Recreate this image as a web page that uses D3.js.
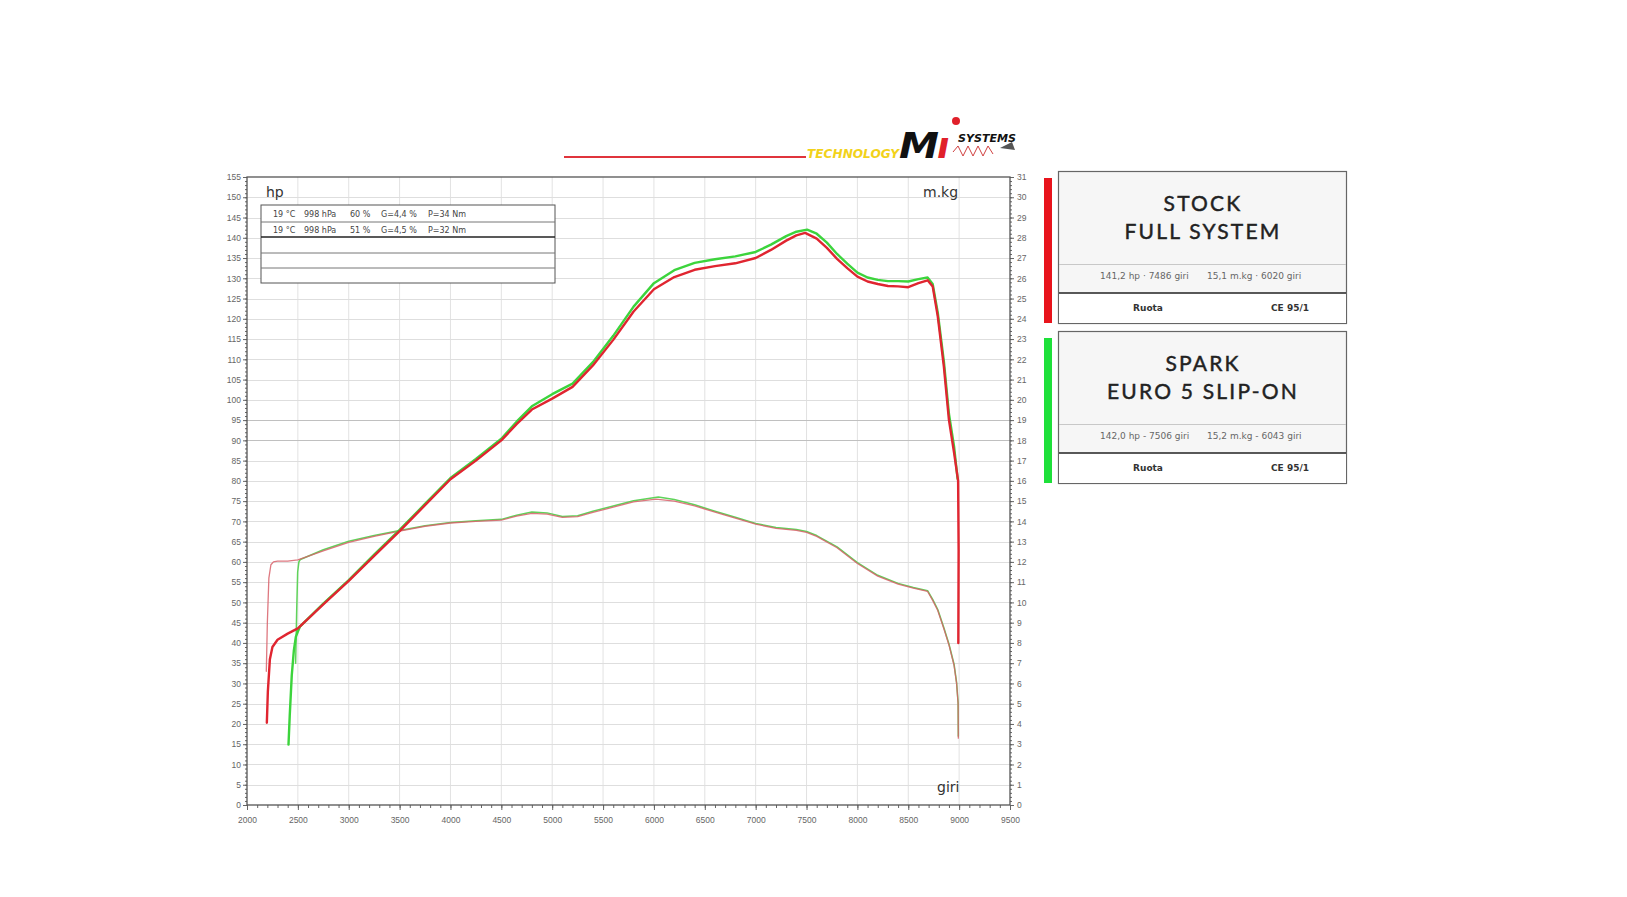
<!DOCTYPE html>
<html>
<head>
<meta charset="utf-8">
<script src="https://cdn.jsdelivr.net/npm/d3@7"></script>
<style>
  html, body { margin: 0; padding: 0; background: #fff; }
  svg { display: block; }
</style>
</head>
<body>
<div id="chart"></div>
<script>
// ---- data ----
var stockPowerRpm = [2195, 2205, 2225, 2250, 2300, 2400, 2500, 2750, 3000, 3250, 3500, 3750, 4000, 4250, 4500, 4650, 4800, 5000, 5200, 5400, 5600, 5800, 6000, 6200, 6400, 6600, 6800, 7000, 7150, 7300, 7400, 7486, 7600, 7700, 7800, 7900, 8000, 8100, 8200, 8300, 8400, 8500, 8600, 8690, 8740, 8790, 8850, 8900, 8950, 8990, 8995, 8992];
var stockPowerHp  = [20.3, 28, 36, 39, 40.8, 42.3, 43.6, 49.5, 55.3, 61.5, 67.6, 74, 80.4, 85, 90, 94, 97.6, 100.3, 103.2, 108.5, 114.8, 121.8, 127.3, 130.3, 132.1, 133, 133.7, 135, 137, 139.3, 140.6, 141.2, 139.8, 137.5, 134.8, 132.5, 130.4, 129.2, 128.6, 128.1, 128, 127.8, 128.8, 129.5, 128, 120.6, 108.2, 95, 87, 80, 63, 40];

var sparkPowerRpm = [2408, 2420, 2440, 2460, 2480, 2500, 2520, 2750, 3000, 3250, 3500, 3750, 4000, 4250, 4500, 4650, 4800, 5000, 5200, 5400, 5600, 5800, 6000, 6200, 6400, 6600, 6800, 7000, 7150, 7300, 7400, 7506, 7600, 7700, 7800, 7900, 8000, 8100, 8200, 8300, 8400, 8500, 8600, 8690, 8740, 8790, 8850, 8900, 8950, 8985];
var sparkPowerHp  = [14.9, 22, 32, 38, 41.5, 42.8, 44, 49.7, 55.5, 61.8, 67.9, 74.3, 80.7, 85.4, 90.4, 94.6, 98.4, 101.4, 104, 109.3, 115.8, 123, 128.8, 132, 133.8, 134.7, 135.4, 136.5, 138.3, 140.4, 141.5, 142.0, 141, 138.8, 136, 133.6, 131.4, 130.2, 129.6, 129.3, 129.3, 129.2, 129.8, 130.2, 128.6, 121.5, 109.5, 96.5, 88.5, 80.5];

var stockTorqueRpm = [2190, 2200, 2215, 2235, 2260, 2300, 2400, 2500, 2750, 3000, 3250, 3500, 3750, 4000, 4250, 4500, 4650, 4800, 4950, 5100, 5250, 5400, 5600, 5800, 6020, 6200, 6400, 6600, 6800, 7000, 7200, 7400, 7500, 7600, 7800, 8000, 8200, 8400, 8550, 8690, 8740, 8790, 8850, 8900, 8950, 8975, 8990, 8992];
var stockTorqueKg  = [6.6, 9.0, 11.2, 11.86, 12.0, 12.04, 12.04, 12.1, 12.54, 12.96, 13.26, 13.52, 13.76, 13.92, 14.0, 14.06, 14.26, 14.4, 14.36, 14.2, 14.24, 14.44, 14.7, 14.96, 15.1, 15.0, 14.76, 14.46, 14.16, 13.86, 13.66, 13.56, 13.46, 13.26, 12.7, 11.92, 11.3, 10.9, 10.7, 10.54, 10.1, 9.6, 8.7, 7.9, 6.9, 6.0, 5.0, 3.3];

var sparkTorqueRpm = [2478, 2488, 2498, 2510, 2525, 2750, 3000, 3250, 3500, 3750, 4000, 4250, 4500, 4650, 4800, 4950, 5100, 5250, 5400, 5600, 5800, 6043, 6200, 6400, 6600, 6800, 7000, 7200, 7400, 7500, 7600, 7800, 8000, 8200, 8400, 8550, 8690, 8740, 8790, 8850, 8900, 8950, 8975, 8990, 8992];
var sparkTorqueKg  = [7.0, 9.5, 11.5, 12.0, 12.12, 12.6, 13.02, 13.3, 13.55, 13.78, 13.95, 14.03, 14.1, 14.3, 14.46, 14.42, 14.24, 14.28, 14.5, 14.76, 15.02, 15.2, 15.08, 14.82, 14.5, 14.2, 13.9, 13.7, 13.6, 13.5, 13.3, 12.74, 11.96, 11.34, 10.94, 10.74, 10.58, 10.15, 9.65, 8.75, 7.95, 6.95, 6.05, 5.05, 3.4];

var hpTicks = d3.range(0, 156, 5);
var kgTicks = d3.range(0, 32, 1);
var rpmTicks = d3.range(2000, 9501, 500);

var testConditions = [
	['19 °C', '998 hPa', '60 %', 'G=4,4 %', 'P=34 Nm'],
	['19 °C', '998 hPa', '51 %', 'G=4,5 %', 'P=32 Nm']
];

var legendTitles = [['STOCK', 'FULL SYSTEM'], ['SPARK', 'EURO 5 SLIP-ON']];
var legendPower = ['141,2 hp · 7486 giri', '142,0 hp - 7506 giri'];
var legendTorque = ['15,1 m.kg · 6020 giri', '15,2 m.kg - 6043 giri'];
var legendColors = ['#e8141c', '#1ee03a'];

// ---- layout ----
var width = 1627, height = 897;
var plot = { left: 247, right: 1010, top: 177, bottom: 805 };

var svg = d3.select('#chart').append('svg')
	.attr('width', width)
	.attr('height', height)
	.style('font-family', '"DejaVu Sans", Arial, sans-serif');

svg.append('rect').attr('width', width).attr('height', height).attr('fill', '#fff');

var x = d3.scaleLinear().domain([2000, 9500]).range([plot.left, plot.right]);
var yHp = d3.scaleLinear().domain([0, 155]).range([plot.bottom, plot.top]);
var yKg = d3.scaleLinear().domain([0, 31]).range([plot.bottom, plot.top]);

// grid
var grid = svg.append('g').attr('class', 'grid');
grid.selectAll('line.v')
	.data(rpmTicks.slice(1, -1))
	.enter().append('line')
	.attr('x1', function(d) { return x(d); })
	.attr('x2', function(d) { return x(d); })
	.attr('y1', plot.top).attr('y2', plot.bottom)
	.attr('stroke', '#e2e2e2').attr('stroke-width', 1);
grid.selectAll('line.h')
	.data(hpTicks.slice(1, -1))
	.enter().append('line')
	.attr('x1', plot.left).attr('x2', plot.right)
	.attr('y1', function(d) { return Math.round(yHp(d)) + 0.5; })
	.attr('y2', function(d) { return Math.round(yHp(d)) + 0.5; })
	.attr('stroke', function(d) { return (d === 90 || d === 95) ? '#c0c0c0' : '#dedede'; })
	.attr('stroke-width', 1);

// axes
function styleAxis(g) {
	g.select('.domain').remove();
	g.selectAll('line').attr('stroke', '#666');
	g.selectAll('text').attr('fill', '#666').style('font-size', '8.5px');
}

svg.append('g')
	.attr('transform', 'translate(' + plot.left + ',0)')
	.call(d3.axisLeft(yHp).tickValues(d3.range(0, 156, 1)).tickSize(2).tickFormat(''))
	.call(styleAxis);
svg.append('g')
	.attr('transform', 'translate(' + plot.left + ',0)')
	.call(d3.axisLeft(yHp).tickValues(hpTicks).tickSize(4).tickPadding(2))
	.call(styleAxis);

svg.append('g')
	.attr('transform', 'translate(' + plot.right + ',0)')
	.call(d3.axisRight(yKg).tickValues(d3.range(0, 31.01, 0.2)).tickSize(2).tickFormat(''))
	.call(styleAxis);
svg.append('g')
	.attr('transform', 'translate(' + plot.right + ',0)')
	.call(d3.axisRight(yKg).tickValues(kgTicks).tickSize(4).tickPadding(3))
	.call(styleAxis);

svg.append('g')
	.attr('transform', 'translate(0,' + plot.bottom + ')')
	.call(d3.axisBottom(x).tickValues(d3.range(2000, 9501, 100)).tickSize(3).tickFormat(''))
	.call(styleAxis);
svg.append('g')
	.attr('transform', 'translate(0,' + plot.bottom + ')')
	.call(d3.axisBottom(x).tickValues(rpmTicks).tickSize(5).tickPadding(7).tickFormat(d3.format('d')))
	.call(styleAxis);

// frame
svg.append('rect')
	.attr('x', plot.left).attr('y', plot.top)
	.attr('width', plot.right - plot.left).attr('height', plot.bottom - plot.top)
	.attr('fill', 'none').attr('stroke', '#555').attr('stroke-width', 1.3);

// unit labels
svg.append('text').attr('x', 266).attr('y', 197).text('hp')
	.attr('fill', '#333').style('font-size', '14px');
svg.append('text').attr('x', 923).attr('y', 197).text('m.kg')
	.attr('fill', '#333').style('font-size', '14px');
svg.append('text').attr('x', 937).attr('y', 792).text('giri')
	.attr('fill', '#333').style('font-size', '14px');

// test conditions table
var table = svg.append('g');
var tableRows = [205, 222, 237, 253, 268, 283];
table.append('rect').attr('x', 261).attr('y', 205).attr('width', 294).attr('height', 78)
	.attr('fill', '#fff').attr('stroke', '#555').attr('stroke-width', 1);
table.selectAll('line.row')
	.data(tableRows.slice(1, -1))
	.enter().append('line')
	.attr('x1', 261).attr('x2', 555)
	.attr('y1', function(d) { return d; }).attr('y2', function(d) { return d; })
	.attr('stroke', function(d, i) { return i === 1 ? '#222' : '#777'; })
	.attr('stroke-width', function(d, i) { return i === 1 ? 1.4 : 1; });
var colX = [273, 304, 350, 381, 428];
testConditions.forEach(function(row, r) {
	table.selectAll('text.r' + r)
		.data(row)
		.enter().append('text')
		.attr('x', function(d, i) { return colX[i]; })
		.attr('y', 217 + r * 15.5)
		.attr('fill', '#444')
		.style('font-size', '8px')
		.text(function(d) { return d; });
});

// curves
function series(rpm, vals) {
	return rpm.map(function(r, i) { return [r, vals[i]]; });
}
var lineHp = d3.line().x(function(d) { return x(d[0]); }).y(function(d) { return yHp(d[1]); });
var lineKg = d3.line().x(function(d) { return x(d[0]); }).y(function(d) { return yKg(d[1]); });

var curves = svg.append('g').attr('fill', 'none').attr('stroke-linejoin', 'round').attr('stroke-linecap', 'round');
curves.append('path').attr('d', lineKg(series(sparkTorqueRpm, sparkTorqueKg)))
	.attr('stroke', '#5fd35a').attr('stroke-width', 1.5);
curves.append('path').attr('d', lineKg(series(stockTorqueRpm, stockTorqueKg)))
	.attr('stroke', '#d8606a').attr('stroke-width', 1.3).attr('stroke-opacity', 0.85);
curves.append('path').attr('d', lineHp(series(sparkPowerRpm, sparkPowerHp)))
	.attr('stroke', '#3cd43c').attr('stroke-width', 2.4);
curves.append('path').attr('d', lineHp(series(stockPowerRpm, stockPowerHp)))
	.attr('stroke', '#e02530').attr('stroke-width', 2.4);

// logo
var logo = svg.append('g');
logo.append('line').attr('x1', 564).attr('x2', 806).attr('y1', 157).attr('y2', 157)
	.attr('stroke', '#e0343c').attr('stroke-width', 2);
logo.append('text').attr('x', 807).attr('y', 158).text('TECHNOLOGY')
	.attr('fill', '#f2d21a').style('font-size', '11.5px').style('font-weight', 'bold').style('font-style', 'italic')
	.attr('textLength', 92).attr('lengthAdjust', 'spacingAndGlyphs');
logo.append('text').attr('x', 899).attr('y', 158).text('M')
	.attr('fill', '#111').style('font-size', '36px').style('font-weight', 'bold').style('font-style', 'italic')
	.attr('textLength', 40).attr('lengthAdjust', 'spacingAndGlyphs');
logo.append('text').attr('x', 937).attr('y', 158).text('ı')
	.attr('fill', '#e0202a').style('font-size', '36px').style('font-weight', 'bold').style('font-style', 'italic');
logo.append('circle').attr('cx', 956).attr('cy', 121).attr('r', 4).attr('fill', '#e0202a');
logo.append('text').attr('x', 958).attr('y', 142).text('SYSTEMS')
	.attr('fill', '#111').style('font-size', '11px').style('font-weight', 'bold').style('font-style', 'italic')
	.attr('textLength', 58).attr('lengthAdjust', 'spacingAndGlyphs');
logo.append('path')
	.attr('d', 'M953,152 l5,-6 l5,10 l5,-10 l5,10 l5,-10 l5,10 l5,-10 l5,8')
	.attr('fill', 'none').attr('stroke', '#d04040').attr('stroke-width', 1);
logo.append('path').attr('d', 'M1000,148 l12,-6 l3,8 z').attr('fill', '#555');

// legend boxes
var boxTops = [171, 331];
legendTitles.forEach(function(title, i) {
	var top = boxTops[i];
	var g = svg.append('g');
	g.append('rect').attr('x', 1044).attr('y', top + 7).attr('width', 8).attr('height', 145)
		.attr('fill', legendColors[i]);
	g.append('rect').attr('x', 1058.5).attr('y', top + 0.5).attr('width', 288).attr('height', 152)
		.attr('fill', '#f6f6f6').attr('stroke', '#666').attr('stroke-width', 1.2);
	g.append('rect').attr('x', 1059).attr('y', top + 122).attr('width', 287).attr('height', 30)
		.attr('fill', '#fff');
	g.append('line').attr('x1', 1059).attr('x2', 1346).attr('y1', top + 93.5).attr('y2', top + 93.5)
		.attr('stroke', '#c8c8c8');
	g.append('line').attr('x1', 1059).attr('x2', 1346).attr('y1', top + 122).attr('y2', top + 122)
		.attr('stroke', '#222').attr('stroke-width', 1.5);
	g.selectAll('text.title')
		.data(title)
		.enter().append('text')
		.attr('x', 1203)
		.attr('y', function(d, j) { return top + 40 + j * 28; })
		.attr('text-anchor', 'middle')
		.attr('fill', '#222')
		.attr('stroke', '#222')
		.attr('stroke-width', 0.45)
		.style('font-family', 'Lato, "Open Sans", sans-serif')
		.style('font-size', '21px')
		.style('letter-spacing', '2.2px')
		.text(function(d) { return d; });
	g.append('text').attr('x', 1100).attr('y', top + 108).text(legendPower[i])
		.attr('fill', '#666').style('font-size', '9px');
	g.append('text').attr('x', 1207).attr('y', top + 108).text(legendTorque[i])
		.attr('fill', '#666').style('font-size', '9px');
	g.append('text').attr('x', 1148).attr('y', top + 140).text('Ruota')
		.attr('text-anchor', 'middle').attr('fill', '#333')
		.style('font-size', '9px').style('font-weight', 'bold');
	g.append('text').attr('x', 1290).attr('y', top + 140).text('CE 95/1')
		.attr('text-anchor', 'middle').attr('fill', '#333')
		.style('font-size', '9px').style('font-weight', 'bold');
});
</script>
</body>
</html>
